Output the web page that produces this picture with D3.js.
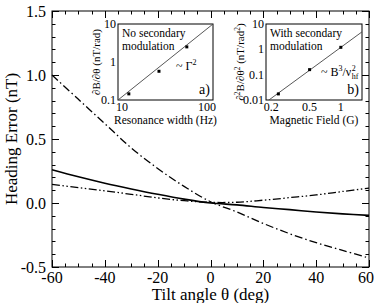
<!DOCTYPE html>
<html><head><meta charset="utf-8">
<script src="https://cdn.jsdelivr.net/npm/d3@7"></script>
<style>
body{margin:0;background:#fff}
svg{display:block}
</style>
</head><body>
<svg id="c" width="374" height="303"></svg>
<script>
// ---- main chart data ----
const theta      = [-60, -50, -40, -30, -20, -10, 0, 10, 20, 30, 40, 50, 60];
const solidErr   = [0.26, 0.205, 0.155, 0.11, 0.068, 0.03, 0.0, -0.015, -0.035, -0.052, -0.07, -0.085, -0.097];
const dashDotErr = [1.00, 0.81, 0.62, 0.43, 0.27, 0.13, 0.01, -0.07, -0.16, -0.24, -0.31, -0.37, -0.43];
const dashDot2Err= [0.145, 0.12, 0.095, 0.068, 0.04, 0.018, 0.005, 0.006, 0.022, 0.042, 0.063, 0.09, 0.116];
const xTicks = [-60, -40, -20, 0, 20, 40, 60];
const yTicks = [-0.5, 0.0, 0.5, 1.0, 1.5];

// ---- inset a ----
const widthA = [13, 27, 53];
const slopeA = [0.145, 0.57, 2.5];
const fitAx = [10, 100];
const fitAy = [0.1, 10];
const aXTicks = [10, 100];
const aYTicks = [0.1, 1, 10];

// ---- inset b ----
const fieldB = [0.25, 0.5, 1];
const curvB  = [0.0174, 0.158, 1.2];
const fitBx = [0.2, 1.6];
const fitBy = [0.0096, 4.9];
const bXTicks = [0.2, 0.5, 1];
const bYTicks = [0.01, 0.1, 1, 10];

const FONT = '"Liberation Serif"';
const svg = d3.select("#c");
const L = 52, R = 369, T = 11, B = 267;
const x = d3.scaleLinear().domain([-60, 60]).range([L, R]);
const y = d3.scaleLinear().domain([-0.5, 1.5]).range([B, T]);

const g = svg.append("g");
const minorX = d3.range(-60, 60.1, 5);
const minorY = d3.range(-0.5, 1.501, 0.1);

g.append("rect").attr("x", L).attr("y", T).attr("width", R - L).attr("height", B - T)
  .attr("fill", "none").attr("stroke", "#000").attr("stroke-width", 1);

function tickLines(sel, isX, vals, len) {
  vals.forEach(v => {
    if (isX) {
      const px = Math.round(x(v)) + 0.5;
      sel.append("line").attr("x1", px).attr("x2", px).attr("y1", B).attr("y2", B - len);
      sel.append("line").attr("x1", px).attr("x2", px).attr("y1", T).attr("y2", T + len);
    } else {
      const py = Math.round(y(v)) + 0.5;
      sel.append("line").attr("y1", py).attr("y2", py).attr("x1", L).attr("x2", L + len);
      sel.append("line").attr("y1", py).attr("y2", py).attr("x1", R).attr("x2", R - len);
    }
  });
}
const tk = g.append("g").attr("stroke", "#000").attr("stroke-width", 1);
tickLines(tk, true, minorX, 3.5);
tickLines(tk, true, xTicks, 7);
tickLines(tk, false, minorY, 3.5);
tickLines(tk, false, yTicks, 7);

g.append("g").selectAll("text").data(xTicks).join("text")
  .style("font-family", FONT)
  .attr("x", d => x(d) + (d === 60 ? -3 : 0)).attr("y", 283).attr("text-anchor", "middle")
  .attr("font-size", 16).text(d => String(d));
g.append("g").selectAll("text").data(yTicks).join("text")
  .style("font-family", FONT)
  .attr("x", L - 6).attr("y", d => y(d) + 5.5).attr("text-anchor", "end")
  .attr("font-size", 16).text(d => d.toFixed(1));

g.append("text").style("font-family", FONT).attr("x", (L + R) / 2).attr("y", 300).attr("text-anchor", "middle")
  .attr("font-size", 17).text("Tilt angle θ (deg)");
g.append("text").style("font-family", FONT).attr("transform", `translate(17,${(T + B) / 2}) rotate(-90)`)
  .attr("text-anchor", "middle").attr("font-size", 17).text("Heading Error (nT)");

const line = d3.line().x(d => x(d[0])).y(d => y(d[1])).curve(d3.curveCatmullRom.alpha(0.5));
const curves = [
  {v: solidErr, dash: null, w: 1.6},
  {v: dashDotErr, dash: "8,3,1.5,3", w: 1.3},
  {v: dashDot2Err, dash: "8,2.5,1.5,2.5,1.5,2.5", w: 1.3}
];
curves.forEach(c => {
  g.append("path").datum(theta.map((t, i) => [t, c.v[i]]))
    .attr("d", line).attr("fill", "none").attr("stroke", "#000")
    .attr("stroke-width", c.w).attr("stroke-dasharray", c.dash);
});

function inset(o) {
  const ig = svg.append("g");
  const xs = d3.scaleLog().domain(o.xd).range([o.x0, o.x1]);
  const ys = d3.scaleLog().domain(o.yd).range([o.y1, o.y0]);
  const id = "clip" + o.name;
  svg.append("clipPath").attr("id", id).append("rect")
    .attr("x", o.x0).attr("y", o.y0).attr("width", o.x1 - o.x0).attr("height", o.y1 - o.y0);
  ig.append("rect").attr("x", o.x0).attr("y", o.y0).attr("width", o.x1 - o.x0).attr("height", o.y1 - o.y0)
    .attr("fill", "#fff").attr("stroke", "#000").attr("stroke-width", 1);
  ig.append("path").datum(o.fx.map((v, i) => [v, o.fy[i]]))
    .attr("clip-path", `url(#${id})`)
    .attr("d", d3.line().x(d => xs(d[0])).y(d => ys(d[1])))
    .attr("fill", "none").attr("stroke", "#444").attr("stroke-width", 0.9);
  ig.selectAll("rect.pt").data(o.px.map((v, i) => [v, o.py[i]])).join("rect")
    .attr("class", "pt").attr("x", d => xs(d[0]) - 1.5).attr("y", d => ys(d[1]) - 1.5)
    .attr("width", 3).attr("height", 3).attr("fill", "#000");
  ig.selectAll("text.yt").data(o.yt).join("text").attr("class", "yt").style("font-family", FONT)
    .attr("x", o.x0 - 2).attr("y", d => ys(d) + 4).attr("text-anchor", "end")
    .attr("font-size", 12).text(d => String(d));
  ig.selectAll("text.xt").data(o.xt).join("text").attr("class", "xt").style("font-family", FONT)
    .attr("x", d => xs(d) + (o.xShift ? o.xShift(d) : 0)).attr("y", o.y1 + 11)
    .attr("text-anchor", "middle").attr("font-size", 12).text(d => String(d));
  ig.append("text").style("font-family", FONT).attr("x", (o.x0 + o.x1) / 2).attr("y", o.y1 + 24).attr("text-anchor", "middle")
    .attr("font-size", 11.5).text(o.xl);
  const yl = ig.append("text").style("font-family", FONT).attr("transform", `translate(${o.ylx},${(o.y0 + o.y1) / 2}) rotate(-90)`)
    .attr("text-anchor", "middle").attr("font-size", 11);
  o.ylParts.forEach(p => {
    const t = yl.append("tspan").text(p.t);
    if (p.sup) t.attr("font-size", 7.5).attr("dy", -4);
    if (p.down) t.attr("dy", 4);
  });
  ig.append("text").style("font-family", FONT).attr("x", o.x0 + 4).attr("y", o.y0 + 13).attr("font-size", 11.5).text(o.t1);
  ig.append("text").style("font-family", FONT).attr("x", o.x0 + 4).attr("y", o.y0 + 26).attr("font-size", 11.5).text(o.t2);
  ig.append("text").style("font-family", FONT).attr("x", o.x1 - 3).attr("y", o.y1 - 6).attr("text-anchor", "end")
    .attr("font-size", 14).text(o.tag);
  return ig;
}

const ia = inset({
  name: "a", x0: 118, x1: 213, y0: 24, y1: 100,
  xd: [10, 100], yd: [0.1, 10],
  fx: fitAx, fy: fitAy, px: widthA, py: slopeA,
  xt: aXTicks, yt: aYTicks, xShift: d => d === 10 ? 4 : -6,
  xl: "Resonance width (Hz)", ylx: 100,
  ylParts: [{t: "∂B/∂θ (nT/rad)"}],
  t1: "No secondary", t2: "modulation", tag: "a)"
});
const ga = ia.append("text").style("font-family", FONT).attr("x", 176).attr("y", 70).attr("font-size", 12);
ga.append("tspan").text("~ Γ");
ga.append("tspan").attr("font-size", 8).attr("dy", -5).text("2");

const ib = inset({
  name: "b", x0: 266, x1: 362, y0: 24, y1: 100,
  xd: [0.19, 1.6], yd: [0.01, 10],
  fx: fitBx, fy: fitBy, px: fieldB, py: curvB,
  xt: bXTicks, yt: bYTicks, xShift: d => d === 0.2 ? 3 : 0,
  xl: "Magnetic Field (G)", ylx: 244,
  ylParts: [{t: "∂"}, {t: "2", sup: true}, {t: "B/∂θ", down: true}, {t: "2", sup: true}, {t: " (nT/rad", down: true}, {t: "2", sup: true}, {t: ")", down: true}],
  t1: "With secondary", t2: "modulation", tag: "b)"
});
const gb = ib.append("text").style("font-family", FONT).attr("x", 321).attr("y", 76).attr("font-size", 12);
gb.append("tspan").text("~ B");
gb.append("tspan").attr("font-size", 8).attr("dy", -5).text("3");
gb.append("tspan").attr("dy", 5).text("/ν");
const bw = gb.node().getComputedTextLength();
ib.append("text").style("font-family", FONT).attr("x", 321 + bw + 0.5).attr("y", 71).attr("font-size", 8).text("2");
ib.append("text").style("font-family", FONT).attr("x", 321 + bw + 0.5).attr("y", 79).attr("font-size", 8).text("hf");
</script>
</body></html>
